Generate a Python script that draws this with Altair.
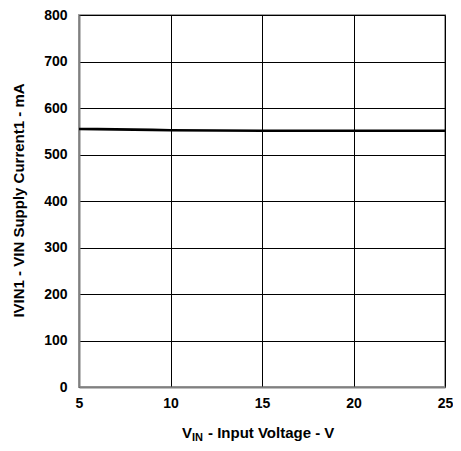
import altair as alt
import pandas as pd

vin = [5, 6, 7, 8, 9, 10, 12.5, 15, 17.5, 20, 22.5, 25]
ivin = [555, 554.5, 554, 553.5, 553, 552, 551.5, 551, 551, 551, 551, 551]
x_ticks = [5, 10, 15, 20, 25]
y_ticks = [0, 100, 200, 300, 400, 500, 600, 700, 800]

df = pd.DataFrame({"vin": vin, "ivin": ivin})

FONT = "Liberation Sans"
W, H = 366, 372

line = alt.Chart(df).mark_line(color="black", strokeWidth=2.6).encode(
    x=alt.X("vin:Q", scale=alt.Scale(domain=[5, 25], nice=False),
            axis=alt.Axis(values=x_ticks, title=None, grid=True, gridColor="black",
                          gridWidth=1, gridOpacity=1, ticks=False, domain=True,
                          domainColor="#808080", domainWidth=2,
                          labelFont=FONT, labelFontWeight="bold", labelFontSize=14,
                          labelColor="black", labelPadding=9, labelFlush=False)),
    y=alt.Y("ivin:Q", scale=alt.Scale(domain=[0, 800], nice=False),
            axis=alt.Axis(values=y_ticks, title="IVIN1 - VIN Supply Current1 -  mA",
                          grid=True, gridColor="black", gridWidth=1, gridOpacity=1,
                          ticks=False, domain=True, domainColor="#808080", domainWidth=2,
                          labelFont=FONT, labelFontWeight="bold", labelFontSize=14,
                          labelColor="black", labelPadding=12,
                          titleFont=FONT, titleFontWeight="bold", titleFontSize=15,
                          titleColor="black", titleX=-53, titleY=H / 2 - 1)),
)

def txt(s, x, y, size):
    return alt.Chart(alt.Data(values=[{"t": s}])).mark_text(
        font=FONT, fontWeight="bold", fontSize=size, color="black",
        align="left", baseline="alphabetic").encode(
        x=alt.value(x), y=alt.value(y), text="t:N")

chart = alt.layer(
    line,
    txt("V", 103, H + 51, 15),
    txt("IN", 113, H + 54, 11),
    txt("- Input Voltage - V", 129, H + 51, 15),
).properties(
    width=W, height=H,
    padding={"left": 71, "top": 7, "right": 8, "bottom": 56},
    autosize=alt.AutoSizeParams(type="none"),
).configure_view(stroke="#a0a0a0", strokeWidth=2)

chart.save("out.html", embed_options={"renderer": "svg", "actions": False})
